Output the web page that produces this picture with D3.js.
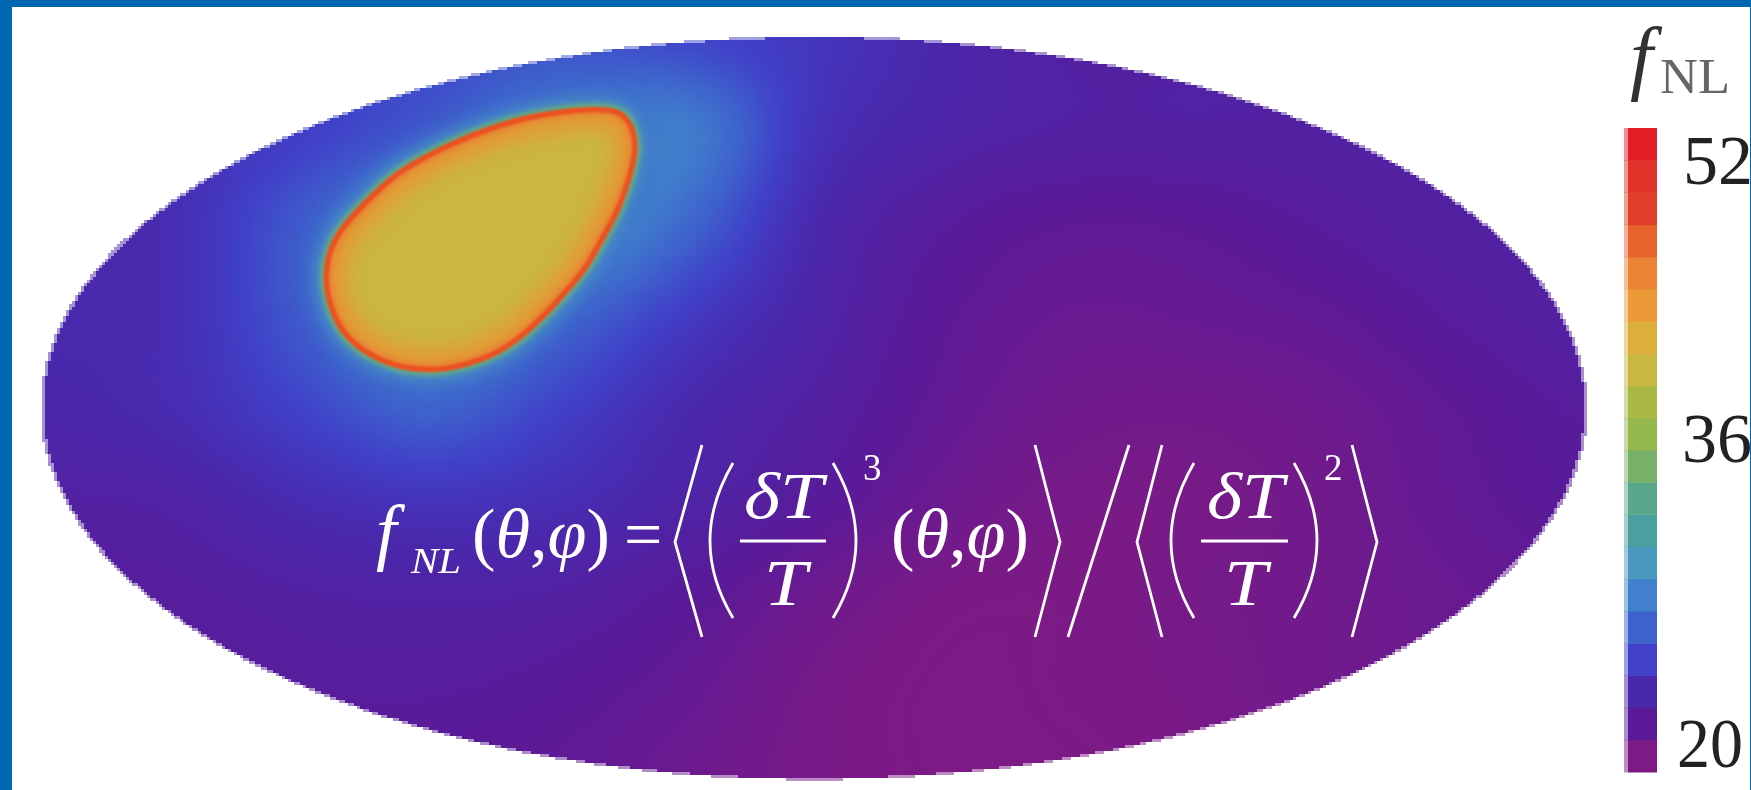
<!DOCTYPE html>
<html><head><meta charset="utf-8">
<script src="https://cdnjs.cloudflare.com/ajax/libs/d3/7.8.5/d3.min.js"></script>
<style>
html,body{margin:0;padding:0;background:#fff;overflow:hidden}
#wrap{position:relative;width:1751px;height:790px;overflow:hidden}
canvas,svg{position:absolute;left:0;top:0}
text{font-family:"Liberation Serif",serif}
</style></head><body><div id="wrap"><canvas id="sky" width="1751" height="790"></canvas><svg id="svg" width="1751" height="790"></svg></div>
<script>
// colour bar bands, bottom to top
const barValues=[19.3,21.1,22.9,24.7,26.4,28.2,30,31.8,33.6,35.4,37.1,38.9,40.7,42.5,44.3,46.1,47.8,49.6,51.4,53.2];
const barColors=["#7d1a85","#5a1a98","#4a28ac","#4040c8","#3e62cc","#4080cc","#4898c0","#4aa0a0","#5aa88c","#78b068","#94b84e","#aab944","#c8b840","#dcae3c","#ec9a38","#ea8434","#e8622e","#e0402a","#e0342a","#e31e24"];
const tickValues=[20,36,52];
const tickLabels=["20","36","52"];
// sky map values f_NL on a lon/lat grid
const gridLon=[-180,-150,-120,-90,-60,-30,0,30,60,90,120,150,180];
const gridLat=[90,67.5,45,22.5,0,-22.5,-45,-67.5,-90];
const gridValues=[
[24,24,25,25,25.5,25,24,22.8,22,22,22,22,22],
[23.5,23.5,24.5,26,28,28,23.8,22.5,22,22,22,22,22],
[23,23.3,26,29,30,26.8,23,21.5,20.9,21,21.5,22,22],
[23,23.3,26,29,27,24.4,22.5,21,20.4,20.5,20.8,21.5,22],
[22.7,23.2,24.8,26.5,24.8,23,21.9,20.7,20,19.9,20.2,20.9,21.5],
[22,22.2,23.2,23.8,23.4,22.4,21.3,20.2,19.6,19.6,20,20.7,21.2],
[21.5,21.6,22,22.2,22,21.2,20.2,19.5,19.4,19.7,20,20.4,20.8],
[21.2,21.2,21.5,21.5,21.2,20.6,19.7,19.3,19.4,19.6,20,20.3,20.5],
[21,21,21,21,20.8,20.2,19.6,19.3,19.3,19.5,20,20.3,20.5]];
// high f_NL patch outline
const blobLon=[-48.3,-44.5,-42,-41.4,-43.4,-45.9,-49.2,-52.9,-56.9,-62.3,-68.5,-73.9,-80.2,-87.9,-95.8,-102.5,-107.5,-111.5,-114.2,-113.4,-111,-106.8,-102.8,-97.2,-91.2,-84.2,-75.5,-66.9,-57.6];
const blobLat=[72.6,71.5,67.6,61.9,54.6,47.3,41.5,34.2,29.4,23,17,13.3,10.7,9,9.6,12.2,15.6,20.5,29.8,37.1,42.5,47.5,51.7,57,60.6,64.3,67.9,70.6,72.2];
const blobCore=41, blobShoulder=45, blobRim=48.5, haloInner=34.5, haloOuter=29.5;

const W=1751,H=790;
const x=d3.scaleLinear().domain([-180,180]).range([42,1586]);
const y=d3.scaleLinear().domain([90,-90]).range([37,779]);
const color=d3.scaleLinear().domain(barValues).range(barColors).interpolate(d3.interpolateRgb).clamp(true);

// sky field, drawn as 3px cells
function cr(a,b,c,d,t){return 0.5*((2*b)+(c-a)*t+(2*a-5*b+4*c-d)*t*t+(3*b-a-3*c+d)*t*t*t);}
const iLon=d3.scaleLinear().domain(d3.extent(gridLon)).range([0,gridLon.length-1]).clamp(true);
const iLat=d3.scaleLinear().domain([90,-90]).range([0,gridLat.length-1]).clamp(true);
function field(lon,lat){
  const u=iLon(lon),v=iLat(lat),i=Math.min(Math.floor(u),gridLon.length-2),j=Math.min(Math.floor(v),gridLat.length-2);
  const at=(r,c)=>gridValues[Math.max(0,Math.min(gridLat.length-1,r))][Math.max(0,Math.min(gridLon.length-1,c))];
  const row=r=>cr(at(r,i-1),at(r,i),at(r,i+1),at(r,i+2),u-i);
  return cr(row(j-1),row(j),row(j+1),row(j+2),v-j);
}
const ctx=document.getElementById('sky').getContext('2d');
const cx=x(0),cy=y(0),rx=x(180)-cx,ry=y(-90)-cy,step=3;
for(let py=y(90);py<y(-90);py+=step){for(let px=x(-180);px<x(180);px+=step){
  const ex=(px+step/2-cx)/rx,ey=(py+step/2-cy)/ry,d=Math.sqrt(ex*ex+ey*ey);
  if(d>1.002)continue;
  ctx.globalAlpha=d>0.998?0.5:1;
  ctx.fillStyle=color(field(x.invert(px+step/2),y.invert(py+step/2)));
  ctx.fillRect(px,py,step,step);
}}
ctx.globalAlpha=1;

const svg=d3.select('#svg');
const defs=svg.append('defs');
[['b0',0.5],['b1',1],['b2',2.5],['b3',7],['b4',9]].forEach(([id,s])=>defs.append('filter').attr('id',id)
  .attr('x','-30%').attr('y','-30%').attr('width','160%').attr('height','160%')
  .append('feGaussianBlur').attr('stdDeviation',s));
const blobPts=blobLon.map((d,i)=>[x(d),y(blobLat[i])]);
const blobPath=d3.line().curve(d3.curveBasisClosed)(blobPts);
defs.append('clipPath').attr('id','inside').append('path').attr('d',blobPath);

const g=svg.append('g');
g.append('path').attr('d',blobPath).attr('fill','none').attr('stroke',color(27)).attr('stroke-width',44).attr('filter','url(#b4)').attr('opacity',.7);
g.append('path').attr('d',blobPath).attr('fill','none').attr('stroke',color(haloOuter)).attr('stroke-width',24).attr('filter','url(#b3)').attr('opacity',.9);
g.append('path').attr('d',blobPath).attr('fill','none').attr('stroke',color(haloInner)).attr('stroke-width',12).attr('filter','url(#b2)');
g.append('path').attr('d',blobPath).attr('fill',color(blobCore));
const inner=g.append('g').attr('clip-path','url(#inside)');
inner.append('path').attr('d',blobPath).attr('fill','none').attr('stroke',color(blobShoulder)).attr('stroke-width',40).attr('filter','url(#b4)').attr('opacity',.8);
inner.append('path').attr('d',blobPath).attr('fill','none').attr('stroke',color(blobShoulder+1.5)).attr('stroke-width',12).attr('filter','url(#b2)').attr('opacity',.8);
g.append('path').attr('d',blobPath).attr('fill','none').attr('stroke',color(blobRim)).attr('stroke-width',5).attr('filter','url(#b1)');
g.append('path').attr('d',blobPath).attr('fill','none').attr('stroke',"#f04f1f").attr('stroke-width',3).attr('filter','url(#b1)').attr('opacity',.9);

// formula
const f=svg.append('g').attr('fill','#fff');
function mtext(px,py,size,parts,len){
  const t=f.append('text').attr('x',px).attr('y',py).attr('font-size',size).attr('xml:space','preserve');
  if(len)t.attr('textLength',len).attr('lengthAdjust','spacingAndGlyphs');
  parts.forEach(([s,it])=>t.append('tspan').attr('font-style',it?'italic':'normal').text(s));
}
mtext(376,556,74,[['f',1]]);
mtext(411,573,36,[['NL',1]],50);
mtext(472,557,70,[['(',0],['θ',1],[',',0],['φ',1],[')',0]],138);
mtext(624,557,68,[['=',0]]);
mtext(744,518,66,[['δT',1]],79);
mtext(764,605,66,[['T',1]],43);
mtext(863,480,37,[['3',0]]);
mtext(891,557,70,[['(',0],['θ',1],[',',0],['φ',1],[')',0]],138);
mtext(1207,518,66,[['δT',1]],77);
mtext(1224,605,66,[['T',1]],43);
mtext(1324,480,37,[['2',0]]);
const stroke=d=>f.append('path').attr('d',d).attr('fill','none').attr('stroke','#fff').attr('stroke-width',2.8);
stroke('M702,445L675,542L702,637');
stroke('M1035,445L1060,542L1035,637');
stroke('M1129,445L1068,637');
stroke('M1162,445L1137,542L1162,637');
stroke('M1352,445L1377,542L1352,637');
stroke('M733,463Q687,541 733,618');
stroke('M833,463Q879,541 833,618');
stroke('M1194,463Q1148,541 1194,618');
stroke('M1294,463Q1340,541 1294,618');
stroke('M740,541H826');
stroke('M1201,541H1288');

// colour bar
const bar=d3.scaleBand().domain(d3.range(barValues.length).reverse()).range([128,772]);
const leg=svg.append('g');
barValues.forEach((v,i)=>{
  leg.append('rect').attr('x',1624).attr('y',bar(i)).attr('width',4).attr('height',bar.bandwidth()+.5).attr('fill',color(v)).attr('opacity',.5);
  leg.append('rect').attr('x',1628).attr('y',bar(i)).attr('width',29).attr('height',bar.bandwidth()+.5).attr('fill',color(v));
});
const tickY=d3.scaleLinear().domain(tickValues).range([743,438,160]);
const tickX=[1677,1682,1683];
const txt=svg.append('g').attr('filter','url(#b0)');
tickValues.forEach((v,i)=>{
  const t=txt.append('text').attr('x',tickX[i]).attr('y',tickY(v)+24).attr('font-size',70).attr('fill','#222').text(tickLabels[i]);
  if(v===20)t.attr('textLength',66).attr('lengthAdjust','spacingAndGlyphs');
});
txt.append('text').attr('x',1630).attr('y',84).attr('font-size',82).attr('font-style','italic').attr('fill','#333').text('f');
txt.append('text').attr('x',1660).attr('y',93).attr('font-size',51).attr('fill','#666').attr('textLength',70).attr('lengthAdjust','spacingAndGlyphs').text('NL');

// frame
svg.append('rect').attr('x',0).attr('y',0).attr('width',W).attr('height',7).attr('fill','#0068b0');
svg.append('rect').attr('x',0).attr('y',0).attr('width',12).attr('height',H).attr('fill','#0068b0');
svg.append('rect').attr('x',1750).attr('y',0).attr('width',1).attr('height',H).attr('fill','#0068b0');
</script></body></html>
